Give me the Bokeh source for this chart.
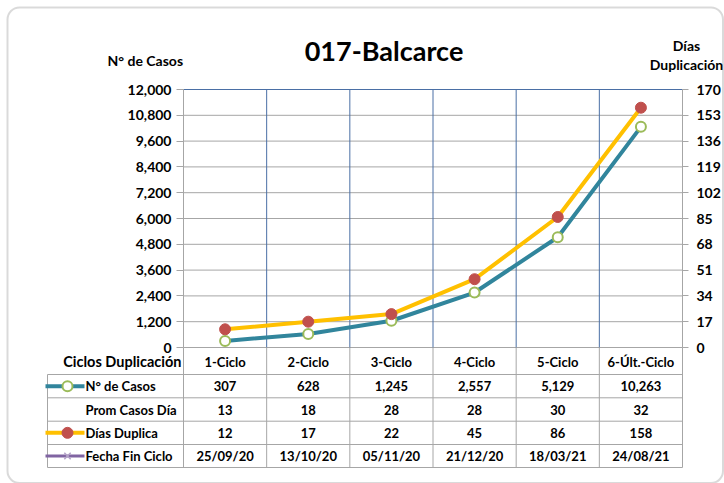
from bokeh.plotting import figure
from bokeh.models import (Range1d, LinearAxis, FixedTicker, NumeralTickFormatter, BoxAnnotation)
from bokeh.core.properties import value
from bokeh.embed import file_html
from bokeh.resources import INLINE

# ---------------- data ----------------
categories = ["1-Ciclo", "2-Ciclo", "3-Ciclo", "4-Ciclo", "5-Ciclo", "6-Últ.-Ciclo"]
casos = [307, 628, 1245, 2557, 5129, 10263]
prom_casos_dia = [13, 18, 28, 28, 30, 32]
dias_duplica = [12, 17, 22, 45, 86, 158]
fecha_fin = ["25/09/20", "13/10/20", "05/11/20", "21/12/20", "18/03/21", "24/08/21"]
left_ticks = list(range(0, 12001, 1200))
right_ticks = list(range(0, 171, 17))
row_labels = ["N° de Casos", "Prom Casos Día", "Días Duplica", "Fecha Fin Ciclo"]
header_label = "Ciclos Duplicación"
title_text = "017-Balcarce"
left_title = "N° de Casos"
right_title = ["Días", "Duplicación"]

# ---------------- layout (page pixels) ----------------
W, H = 724, 483
PX_L, PX_R = 183, 682        # plot area left / right
PX_T, PX_B = 89, 347         # plot area top / bottom
Y_MAX = 12000
R_MAX = 170
NCAT = len(categories)

def rx(px):
    return (px - PX_L) * NCAT / (PX_R - PX_L)

def ry(py):
    return (PX_B - py) * Y_MAX / (PX_B - PX_T)

FONT = "Lato"
FONTV = value("Lato")
TEAL = "#31859C"
ORANGE = "#FFC000"
RED = "#C0504D"
GREEN = "#9BBB59"
PURPLE = "#8064A2"
GRID = "#A6A6A6"
BLUE = "#4A6FA5"
TABLE_FS = "13px"

p = figure(width=W, height=H, x_range=Range1d(rx(0), rx(W)), y_range=Range1d(ry(H), ry(0)),
           output_backend="svg", toolbar_location=None, min_border=0,
           x_axis_location=None, y_axis_location=None)
p.min_border_left = p.min_border_right = p.min_border_top = p.min_border_bottom = 0
p.outline_line_color = None
p.background_fill_color = "white"
p.border_fill_color = "white"
p.grid.visible = False
p.extra_y_ranges = {"dias": Range1d(ry(H) * R_MAX / Y_MAX, ry(0) * R_MAX / Y_MAX)}

xs = [i + 0.5 for i in range(NCAT)]

# outer rounded border
p.add_layout(BoxAnnotation(left=rx(7), right=rx(722.5), top=ry(7), bottom=ry(482.5),
                           fill_color=None, line_color="#858585", line_width=2,
                           border_radius=12, level="underlay"))

# left axis
lax = LinearAxis(fixed_location=0, bounds=(0, Y_MAX), ticker=FixedTicker(ticks=left_ticks),
                 formatter=NumeralTickFormatter(format="0,0"))
lax.major_label_text_font = FONT
lax.major_label_text_font_style = "bold"
lax.major_label_text_font_size = "14px"
lax.major_label_text_color = "black"
lax.axis_line_color = GRID
lax.major_tick_line_color = GRID
lax.major_tick_out = 7
lax.major_tick_in = 0
lax.minor_tick_line_color = None
lax.major_label_standoff = 5
p.add_layout(lax, "left")

# right axis
rax = LinearAxis(y_range_name="dias", fixed_location=NCAT, bounds=(0, R_MAX),
                 ticker=FixedTicker(ticks=right_ticks))
rax.major_label_text_font = FONT
rax.major_label_text_font_style = "bold"
rax.major_label_text_font_size = "14px"
rax.major_label_text_color = "black"
rax.axis_line_color = GRID
rax.major_tick_line_color = GRID
rax.major_tick_out = 6
rax.major_tick_in = 0
rax.minor_tick_line_color = None
rax.major_label_standoff = 8
p.add_layout(rax, "right")

# horizontal grid lines (from the left ticks)
p.segment(x0=[0] * len(left_ticks), x1=[NCAT] * len(left_ticks), y0=left_ticks, y1=left_ticks,
          line_color=GRID, line_width=1)
p.segment(x0=[0], x1=[NCAT], y0=[Y_MAX], y1=[Y_MAX], line_color=BLUE, line_width=1)
# vertical category separators in plot area
p.segment(x0=list(range(1, NCAT)), x1=list(range(1, NCAT)), y0=[0] * (NCAT - 1),
          y1=[Y_MAX] * (NCAT - 1), line_color=BLUE, line_width=1)

# ---------------- table ----------------
row_edges = [374, 397.3, 420.7, 444, 467]
row_centers = [(a + b) / 2 for a, b in zip(row_edges[:-1], row_edges[1:])]
TAB_L = 47

hx0, hx1, hy = [], [], []
for e in row_edges:
    hx0.append(rx(TAB_L)); hx1.append(NCAT); hy.append(ry(e))
p.segment(x0=hx0, x1=hx1, y0=hy, y1=hy, line_color=GRID, line_width=1)
vx = [rx(TAB_L)] + list(range(NCAT + 1))
vy0 = [ry(row_edges[0])] + [0] * (NCAT + 1)
p.segment(x0=vx, x1=vx, y0=vy0, y1=[ry(row_edges[-1])] * len(vx), line_color=GRID, line_width=1)

# header row
p.text(x=xs, y=[ry(361)] * NCAT, text=categories, text_align="center", text_baseline="middle",
       text_font=FONTV, text_font_style="bold", text_font_size=TABLE_FS, text_color="black")
p.text(x=[rx(181)], y=[ry(361)], text=[header_label], text_align="right", text_baseline="middle",
       text_font=FONTV, text_font_style="bold", text_font_size="14.5px", text_color="black")

rows_text = [[f"{v:,}" for v in casos], [str(v) for v in prom_casos_dia],
             [str(v) for v in dias_duplica], fecha_fin]
tx, ty, tt = [], [], []
for r, vals in enumerate(rows_text):
    for xv, v in zip(xs, vals):
        tx.append(xv); ty.append(ry(row_centers[r])); tt.append(v)
p.text(x=tx, y=ty, text=tt, text_align="center", text_baseline="middle",
       text_font=FONTV, text_font_style="bold", text_font_size=TABLE_FS, text_color="black")

p.text(x=[rx(85)] * len(row_labels), y=[ry(c) for c in row_centers], text=row_labels,
       text_align="left", text_baseline="middle", text_font=FONTV, text_font_style="bold",
       text_font_size=TABLE_FS, text_color="black")

# legend icons inside the table
for r, col, w in [(0, TEAL, 4), (2, ORANGE, 4), (3, PURPLE, 3)]:
    yy = ry(row_centers[r])
    p.segment(x0=[rx(45)], x1=[rx(84)], y0=[yy], y1=[yy], line_color=col, line_width=w)
p.scatter([rx(67)], [ry(row_centers[0])], size=10, fill_color="white", line_color=GREEN, line_width=2)
p.scatter([rx(67)], [ry(row_centers[2])], size=11, fill_color=RED, line_color=RED)
p.scatter([rx(67)], [ry(row_centers[3])], size=9, marker="x", line_color="#B3A2C7", line_width=1.5)

# ---------------- series ----------------
p.line(xs, casos, line_color=TEAL, line_width=4)
p.scatter(xs, casos, size=10, fill_color="white", line_color=GREEN, line_width=2)
p.line(xs, dias_duplica, y_range_name="dias", line_color=ORANGE, line_width=4)
p.scatter(xs, dias_duplica, y_range_name="dias", size=11, fill_color=RED, line_color=RED)

# ---------------- titles ----------------
p.text(x=[rx(383.5)], y=[ry(50)], text=[title_text], text_align="center", text_baseline="middle",
       text_font=FONTV, text_font_style="bold", text_font_size="27px", text_color="black")
p.text(x=[rx(107)], y=[ry(60)], text=[left_title], text_align="left", text_baseline="middle",
       text_font=FONTV, text_font_style="bold", text_font_size="14px", text_color="black")
p.text(x=[rx(686)] * 2, y=[ry(45), ry(64)], text=right_title, text_align="center",
       text_baseline="middle", text_font=FONTV, text_font_style="bold", text_font_size="14px",
       text_color="black")

open("out.html", "w").write(file_html(p, INLINE))
